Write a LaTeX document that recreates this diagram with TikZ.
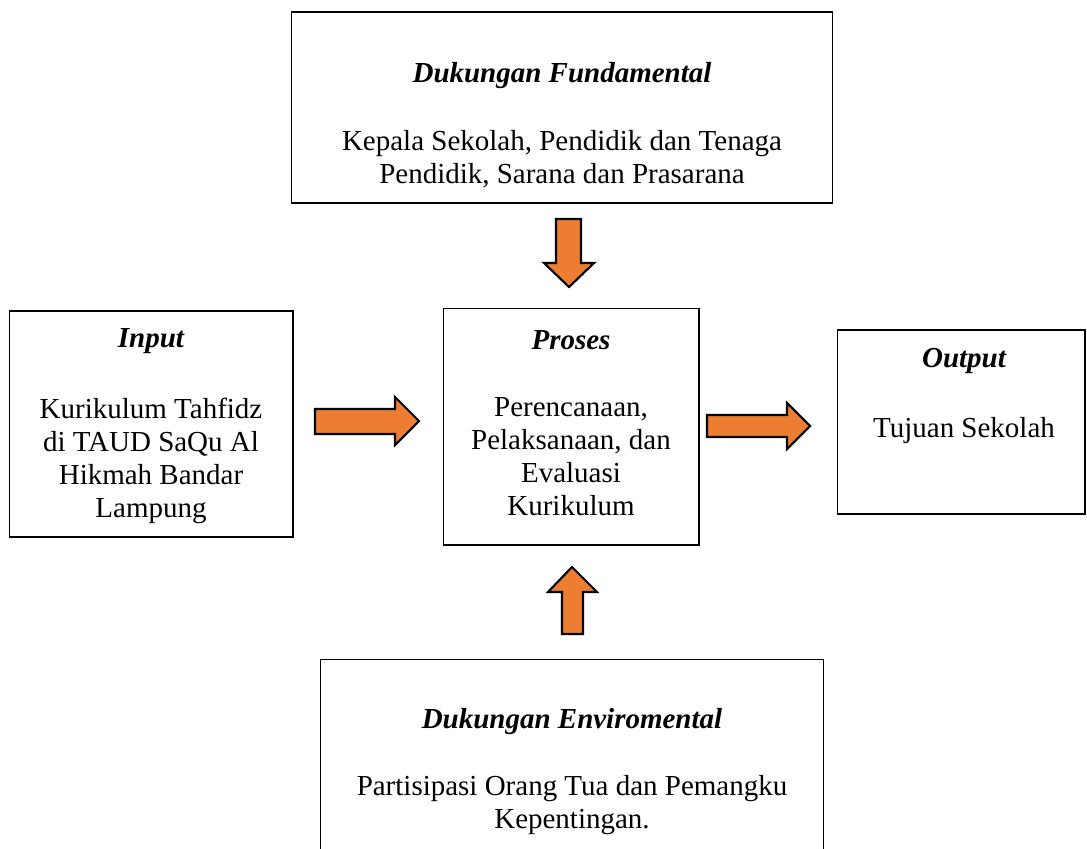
\documentclass[tikz,border=0pt]{standalone}
\usepackage{fontspec}
\setmainfont{Liberation Serif}
\definecolor{oranye}{HTML}{ED7D31}
\tikzset{
  kotak/.style={draw, line width=0.6pt, inner sep=0pt},
  judul/.style={font=\fontsize{16.5}{19}\selectfont\bfseries\itshape},
  isi/.style={font=\fontsize{16.5}{18.8}\selectfont, align=center},
  panah/.style={draw, fill=oranye, line width=1.2pt, line join=miter}
}
\begin{document}
\begin{tikzpicture}[x=0.02cm, y=-0.02cm]
    \useasboundingbox (0,0) rectangle (1087,848);
    \clip (0,0) rectangle (1087,848);

    % kotak-kotak
    \node[kotak, minimum width=10.84cm, minimum height=3.82cm] (fundamental) at (562,107.5) {};
    \node[kotak, minimum width=5.68cm, minimum height=4.52cm] (input) at (151,424) {};
    \node[kotak, minimum width=5.12cm, minimum height=4.74cm] (proses) at (571,426.5) {};
    \node[kotak, minimum width=4.96cm, minimum height=3.68cm] (output) at (961,422) {};
    \node[kotak, minimum width=10.08cm, minimum height=4.42cm] (enviromental) at (572,769.5) {};

    % tulisan
    \node[judul] (fundamental-judul) at (562,76) {Dukungan Fundamental};
    \node[isi] (fundamental-isi) at (562,159) {Kepala Sekolah, Pendidik dan Tenaga\\Pendidik, Sarana dan Prasarana};
    \node[judul] (input-judul) at (151,341) {Input};
    \node[isi] (input-isi) at (151,461) {Kurikulum Tahfidz\\di TAUD SaQu Al\\Hikmah Bandar\\Lampung};
    \node[judul] (proses-judul) at (571,340) {Proses};
    \node[isi] (proses-isi) at (571,457) {Perencanaan,\\Pelaksanaan, dan\\Evaluasi\\Kurikulum};
    \node[judul] (output-judul) at (964,361) {Output};
    \node[isi] (output-isi) at (964,431) {Tujuan Sekolah};
    \node[judul] (enviromental-judul) at (572,722) {Dukungan Enviromental};
    \node[isi] (enviromental-isi) at (572,805) {Partisipasi Orang Tua dan Pemangku\\Kepentingan.};

    % panah
    \filldraw[panah] (556,219) -- (581,219) -- (581,263) -- (594,263) -- (569,287) -- (544,263) -- (556,263) -- cycle;
    \filldraw[panah] (315,409) -- (395,409) -- (395,397) -- (419,421) -- (395,445) -- (395,434) -- (315,434) -- cycle;
    \filldraw[panah] (707,415) -- (787,415) -- (787,403) -- (810,426) -- (787,449) -- (787,437) -- (707,437) -- cycle;
    \filldraw[panah] (572,567) -- (597,592) -- (583,592) -- (583,634) -- (562,634) -- (562,592) -- (548,592) -- cycle;
\end{tikzpicture}
\end{document}
